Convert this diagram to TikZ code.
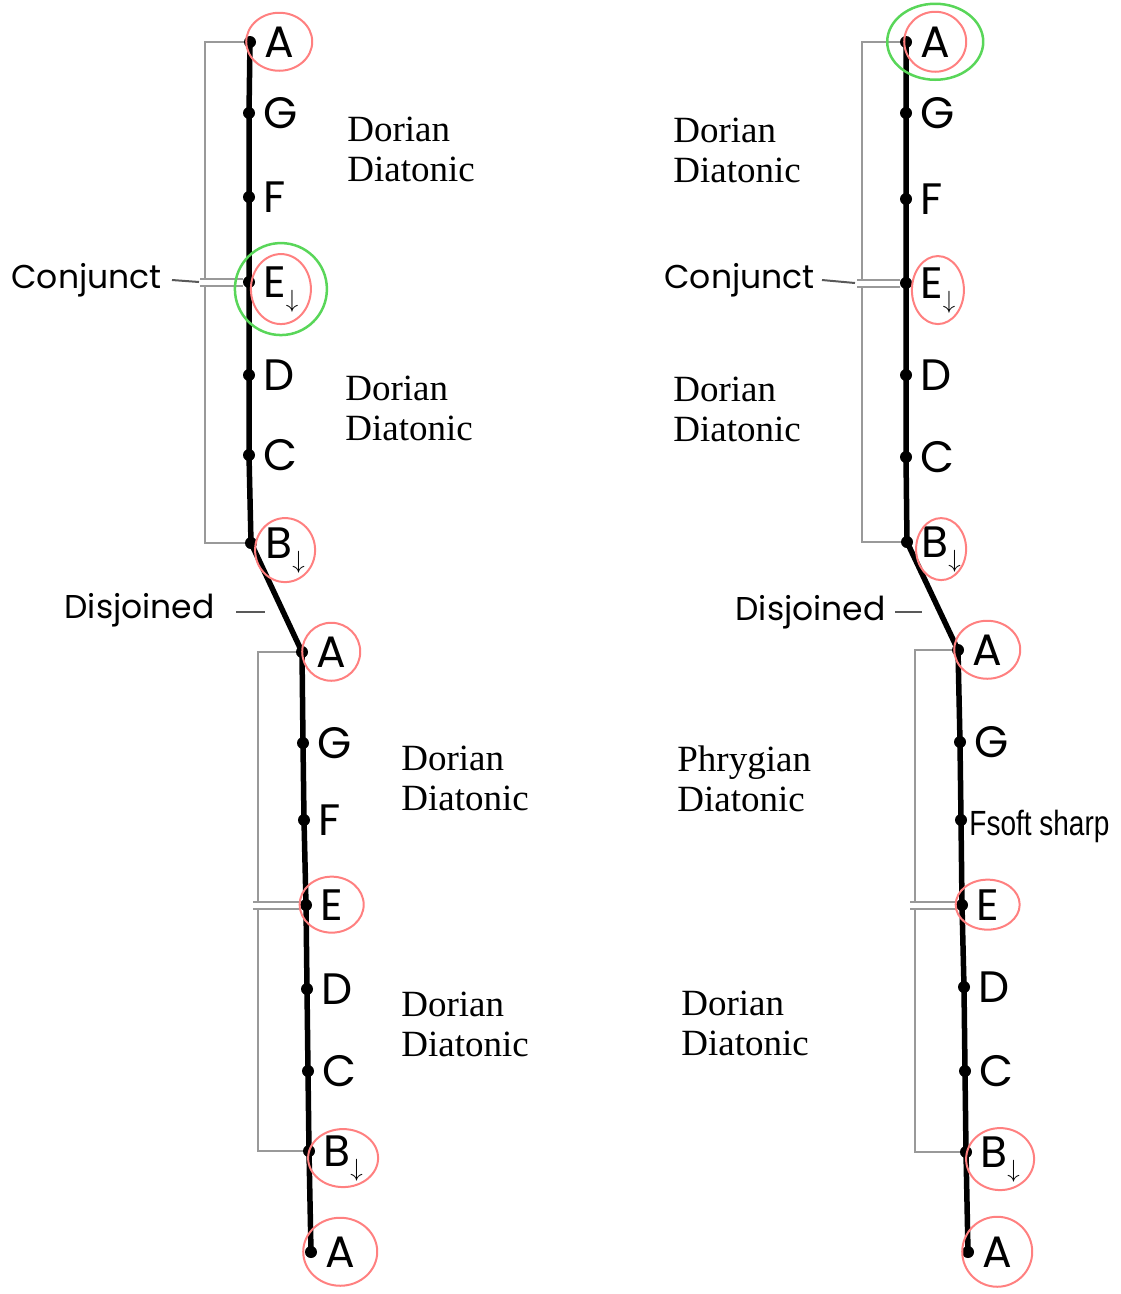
\documentclass[tikz,border=0pt]{standalone}
\usepackage{fontspec}
\setmainfont{Liberation Serif}
\newfontfamily\notefont{Poppins}
\newfontfamily\narrowfont[FakeStretch=0.8]{Liberation Sans}
\usetikzlibrary{calc, positioning}
\newcommand\sdown{\raisebox{-10pt}{$\scriptstyle\downarrow$}}

\begin{document}
\begin{tikzpicture}[x=1pt, y=-1pt, thick, dot node/.style={circle, fill=black, inner sep=0pt, minimum size=12pt}, note/.style={anchor=base west, inner sep=0pt, font=\notefont\fontsize{44}{44}\selectfont}, mode/.style={anchor=west, align=left, inner sep=0pt, font=\fontsize{37}{40}\selectfont}, tag/.style={anchor=east, inner sep=0pt, font=\notefont\fontsize{33}{33}\selectfont}, scale line/.style={line width=5.5pt, line join=round}, bracket/.style={black!40, line width=2.5pt}, pointer/.style={black!65, line width=2pt}, red ring/.style={draw=red!50, line width=2pt}, green ring/.style={draw=green!75!black!65, line width=2.5pt}] %1pt = 1px of the reference
\useasboundingbox (0,0) rectangle (1120,1294);

% the notes, top to bottom
\foreach \n/\x/\y/\t in {lA1/250/42/A, lG1/249/113/G, lF1/249/197/F, lE1/249/282/E\sdown, lD1/249/375/D, lC1/249/455/C, lB1/251/543/B\sdown,
    lA2/302/652/A, lG2/303/743/G, lF2/304/820/F, lE2/306/905/E, lD2/307/989/D, lC2/308/1071/C, lB2/309/1151/B\sdown, lA3/311/1252/A,
    rA1/906/42/A, rG1/906/113/G, rF1/906/199/F, rE1/906/283/E\sdown, rD1/906/375/D, rC1/906/457/C, rB1/907/542/B\sdown,
    rA2/958/650/A, rG2/960/742/G, rF2/961/820/{\hspace{-6pt}\narrowfont\fontsize{35}{35}\selectfont Fsoft sharp}, rE2/962/905/E, rD2/964/987/D, rC2/965/1071/C, rB2/966/1152/B\sdown, rA3/968/1252/A}{
  \node[dot node] (\n) at (\x,\y) {};
  \node[note] (\n t) at ($(\n)+(14,15)$) {\t};
}

\draw[scale line] (lA1.center) \foreach \n in {lG1, lF1, lE1, lD1, lC1, lB1, lA2, lG2, lF2, lE2, lD2, lC2, lB2, lA3} {-- (\n.center)};
\draw[scale line] (rA1.center) \foreach \n in {rG1, rF1, rE1, rD1, rC1, rB1, rA2, rG2, rF2, rE2, rD2, rC2, rB2, rA3} {-- (\n.center)};

% tetrachord brackets
\foreach \t/\m/\b/\o in {lA1/lE1/lB1/45, lA2/lE2/lB2/44, rA1/rE1/rB1/44, rA2/rE2/rB2/43}{
  \coordinate (k) at ($(\t)+(-\o,0)$);
  \draw[bracket] ($(\t)+(-6,0)$) -- (k) -- ($(k |- \m)+(0,-3)$);
  \draw[bracket] ($(k |- \m)+(0,4)$) -- (k |- \b) -- ($(\b)+(-6,0)$);
  \draw[bracket] ($(k |- \m)+(-5,-3)$) -- ($(\m)+(-6,-3)$) ($(k |- \m)+(-5,4)$) -- ($(\m)+(-6,4)$);
}

\node[mode] (lm1) at (347,149) {Dorian\\Diatonic};
\node[mode] (lm2) at (345,408) {Dorian\\Diatonic};
\node[mode] (lm3) at (401,778) {Dorian\\Diatonic};
\node[mode] (lm4) at (401,1024) {Dorian\\Diatonic};
\node[mode] (rm1) at (673,150) {Dorian\\Diatonic};
\node[mode] (rm2) at (673,409) {Dorian\\Diatonic};
\node[mode] (rm3) at (677,779) {Phrygian\\Diatonic};
\node[mode] (rm4) at (681,1023) {Dorian\\Diatonic};

\node[tag] (lconj) at (162,280) {Conjunct};
\node[tag] (ldis) at (215,610) {Disjoined};
\node[tag] (rconj) at (815,280) {Conjunct};
\node[tag] (rdis) at (886,612) {Disjoined};
\draw[pointer] ([xshift=10pt]lconj.east) -- ($(lE1)+(-50,0)$);
\draw[pointer] ([xshift=21pt,yshift=-2pt]ldis.east) -- ++(29,0);
\draw[pointer] ([xshift=7pt]rconj.east) -- ($(rE1)+(-51,0)$);
\draw[pointer] ([xshift=9pt]rdis.east) -- ++(27,0);

% hand drawn rings
\foreach \n/\a/\b in {lA1t/33/29, lE1t/30/35, lB1t/30/32, lA2t/29/29, lE2t/32/28, lB2t/35/29, lA3t/37/34, rA1t/31/30, rE1t/26/34, rB1t/25/31, rA2t/33/29, rE2t/32/25, rB2t/34/31, rA3t/35/35}
  \draw[red ring] (\n.center) ellipse [x radius=\a, y radius=\b];
\draw[green ring] (lE1t.center) ellipse [x radius=46, y radius=46];
\draw[green ring] (rA1t.center) ellipse [x radius=48, y radius=38];
\end{tikzpicture}
\end{document}
